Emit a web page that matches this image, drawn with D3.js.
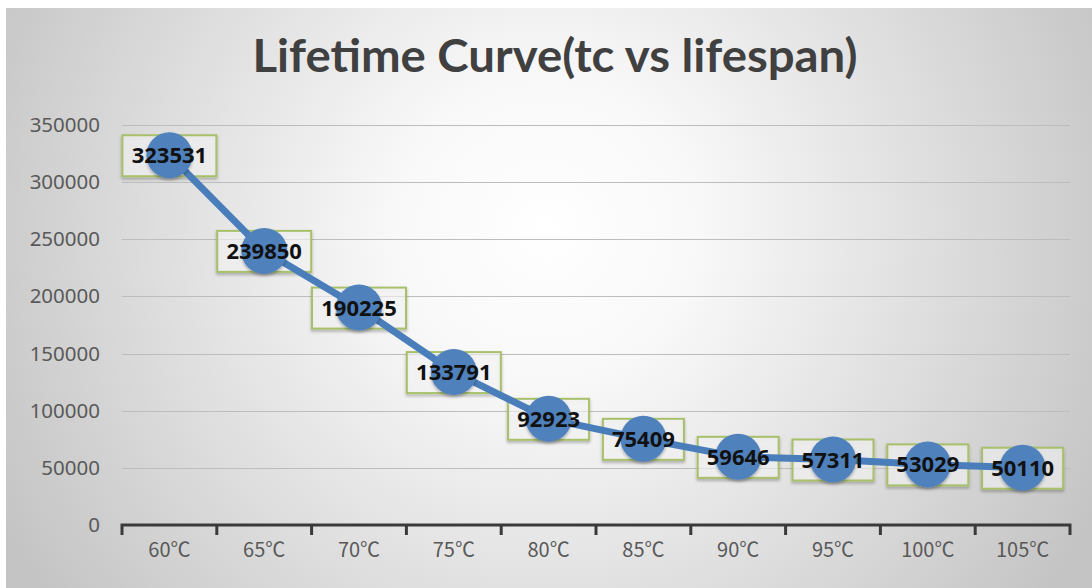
<!DOCTYPE html>
<html>
<head>
<meta charset="utf-8">
<script src="https://cdn.jsdelivr.net/npm/d3@7"></script>
<style>
  body { margin: 0; background: #fff; }
  svg { display: block; }
</style>
</head>
<body>
<script>
// chart data
var temps = ["60℃", "65℃", "70℃", "75℃", "80℃", "85℃", "90℃", "95℃", "100℃", "105℃"];
var lifespan = [323531, 239850, 190225, 133791, 92923, 75409, 59646, 57311, 53029, 50110];
var yTicks = [0, 50000, 100000, 150000, 200000, 250000, 300000, 350000];
var chartTitle = "Lifetime Curve(tc vs lifespan)";

var W = 1092, H = 588;
var plotLeft = 122, plotRight = 1070, plotTop = 125, plotBottom = 525;

var svg = d3.select("body").append("svg")
    .attr("width", W)
    .attr("height", H);

var defs = svg.append("defs");
var grad = defs.append("radialGradient")
    .attr("id", "bg")
    .attr("gradientUnits", "userSpaceOnUse")
    .attr("cx", 546).attr("cy", 230).attr("r", 620);
grad.append("stop").attr("offset", "0").attr("stop-color", "#ffffff");
grad.append("stop").attr("offset", "0.25").attr("stop-color", "#f8f8f8");
grad.append("stop").attr("offset", "1").attr("stop-color", "#c4c4c4");

var shadow = defs.append("filter").attr("id", "shadow")
    .attr("x", "-20%").attr("y", "-20%").attr("width", "140%").attr("height", "150%");
shadow.append("feDropShadow")
    .attr("dx", 0).attr("dy", 2).attr("stdDeviation", 1.5)
    .attr("flood-color", "#000").attr("flood-opacity", 0.3);

svg.append("rect")
    .attr("x", 6).attr("y", 8)
    .attr("width", W - 6).attr("height", H - 8)
    .attr("fill", "url(#bg)");

// title
svg.append("text")
    .attr("x", 555).attr("y", 72)
    .attr("text-anchor", "middle")
    .attr("font-family", "Lato, 'Open Sans', sans-serif")
    .attr("font-weight", "bold")
    .attr("font-size", 46)
    .attr("fill", "#404040")
    .attr("textLength", 605)
    .attr("lengthAdjust", "spacingAndGlyphs")
    .text(chartTitle);

var x = d3.scaleBand()
    .domain(temps)
    .range([plotLeft, plotRight]);

var y = d3.scaleLinear()
    .domain([0, 350000])
    .range([plotBottom, plotTop]);

// gridlines
svg.append("g")
  .selectAll("line")
  .data(yTicks.filter(function(d) { return d > 0; }))
  .enter()
  .append("line")
    .attr("x1", plotLeft).attr("x2", plotRight)
    .attr("y1", function(d) { return Math.round(y(d)) + 0.5; })
    .attr("y2", function(d) { return Math.round(y(d)) + 0.5; })
    .attr("stroke", "#bdbdbd")
    .attr("stroke-width", 1);

// y axis labels
var yAxis = svg.append("g")
    .attr("transform", "translate(" + plotLeft + ",0)")
    .call(d3.axisLeft(y).tickValues(yTicks).tickSize(0).tickPadding(22).tickFormat(d3.format("d")));
yAxis.select(".domain").remove();
yAxis.selectAll("text")
    .attr("font-family", "'Noto Sans', sans-serif")
    .attr("font-size", 20.5)
    .attr("fill", "#595959");

// x axis
var xAxis = svg.append("g")
    .attr("transform", "translate(0," + plotBottom + ")")
    .call(d3.axisBottom(x).tickSize(0).tickPadding(18));
xAxis.select(".domain")
    .attr("stroke", "#3a3a3a")
    .attr("stroke-width", 3)
    .attr("d", "M" + plotLeft + ",10V0H" + plotRight + "V10");
xAxis.selectAll("text")
    .attr("font-family", "'Noto Sans CJK SC', 'Noto Sans', sans-serif")
    .attr("font-size", 20)
    .attr("fill", "#595959");

// category boundary ticks
svg.append("g")
  .selectAll("line")
  .data(temps.slice(1))
  .enter()
  .append("line")
    .attr("x1", function(d) { return x(d); })
    .attr("x2", function(d) { return x(d); })
    .attr("y1", plotBottom).attr("y2", plotBottom + 10)
    .attr("stroke", "#3a3a3a")
    .attr("stroke-width", 3);

var pts = temps.map(function(t, i) { return { t: t, v: lifespan[i] }; });
var cx = function(d) { return x(d.t) + x.bandwidth() / 2; };
var boxW = function(d) { return String(d.v).length * 13 + 16; };

// label boxes (behind the line)
svg.append("g")
  .selectAll("rect")
  .data(pts)
  .enter()
  .append("rect")
    .attr("x", function(d) { return cx(d) - boxW(d) / 2; })
    .attr("y", function(d) { return y(d.v) - 20; })
    .attr("width", boxW)
    .attr("height", 41)
    .attr("fill", "rgba(255,255,255,0.55)")
    .attr("stroke", "#a8c06a")
    .attr("stroke-width", 2)
    .attr("filter", "url(#shadow)");

// line
var line = d3.line()
    .x(cx)
    .y(function(d) { return y(d.v); });

svg.append("path")
    .attr("d", line(pts))
    .attr("fill", "none")
    .attr("stroke", "#4a7ebb")
    .attr("stroke-width", 7)
    .attr("stroke-linejoin", "round");

// markers
svg.append("g")
  .selectAll("circle")
  .data(pts)
  .enter()
  .append("circle")
    .attr("cx", cx)
    .attr("cy", function(d) { return y(d.v); })
    .attr("r", 23)
    .attr("fill", "#4f81bd")
    .attr("filter", "url(#shadow)");

// label text
svg.append("g")
  .selectAll("text")
  .data(pts)
  .enter()
  .append("text")
    .attr("x", cx)
    .attr("y", function(d) { return y(d.v) + 8; })
    .attr("text-anchor", "middle")
    .attr("font-family", "'Open Sans', sans-serif")
    .attr("font-weight", "bold")
    .attr("font-size", 22)
    .attr("fill", "#111")
    .text(function(d) { return d.v; });
</script>
</body>
</html>
